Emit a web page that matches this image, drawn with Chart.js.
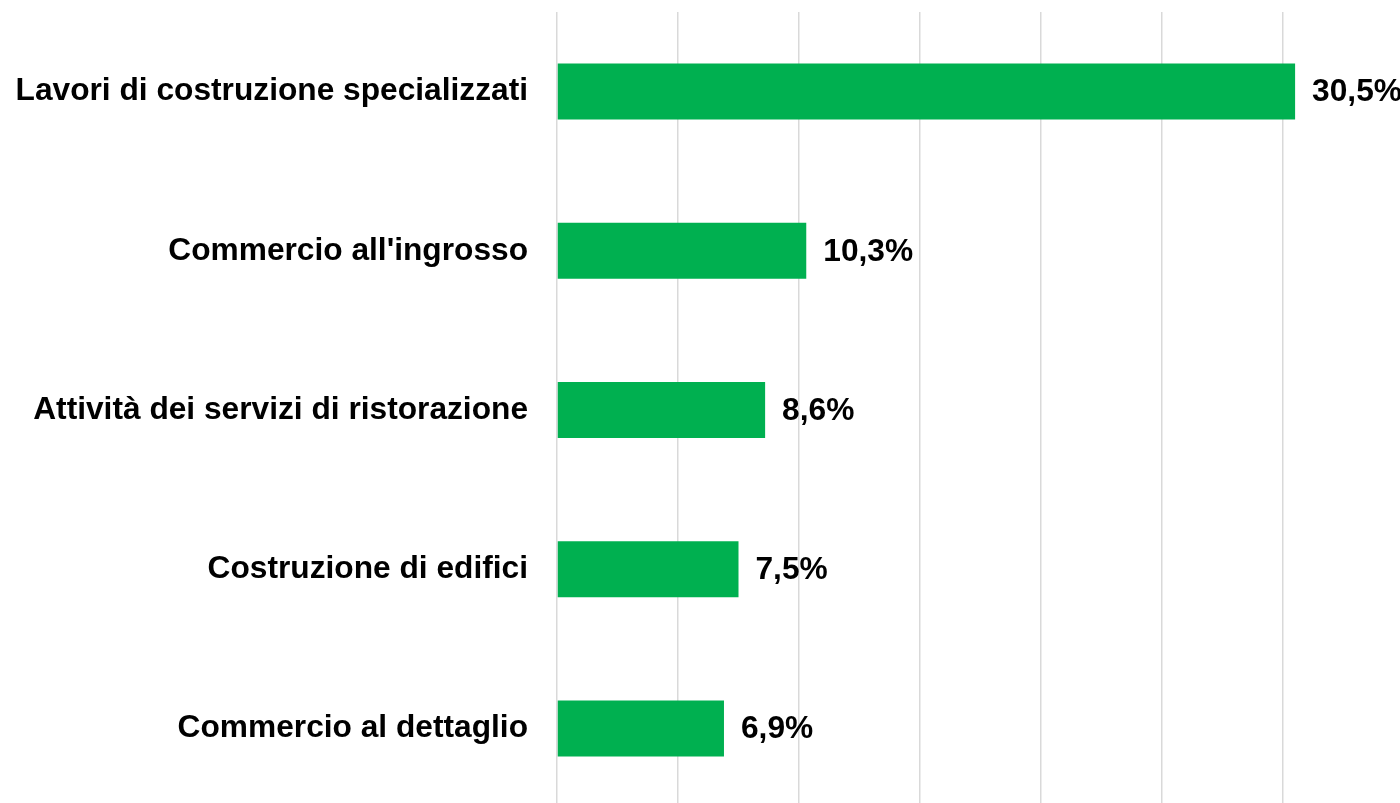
<html>
  <head>
    <title>Settori</title>
    <script src="https://cdn.jsdelivr.net/npm/chart.js@4.4.1/dist/chart.umd.min.js"></script>
    <style>
      body { margin: 0; overflow: hidden; background: #fff; }
      #wrap { width: 1404px; height: 808px; }
    </style>
  </head>
  <body>
    <div id="wrap">
      <canvas id="settori"></canvas>
    </div>
    <script>
      var categories = [
        'Lavori di costruzione specializzati',
        "Commercio all'ingrosso",
        'Attività dei servizi di ristorazione',
        'Costruzione di edifici',
        'Commercio al dettaglio'
      ];
      var values = [30.5, 10.3, 8.6, 7.5, 6.9];
      var valueLabels = ['30,5%', '10,3%', '8,6%', '7,5%', '6,9%'];

      var FONT = "'Liberation Sans', Arial, sans-serif";

      // etichette dei valori a destra delle barre
      var barLabels = {
        id: 'barLabels',
        afterDatasetsDraw: function(chart) {
          var ctx = chart.ctx;
          var meta = chart.getDatasetMeta(0);
          ctx.save();
          ctx.font = 'bold 31.7px ' + FONT;
          ctx.fillStyle = '#000';
          ctx.textAlign = 'left';
          ctx.textBaseline = 'middle';
          meta.data.forEach(function(bar, i) {
            ctx.fillText(valueLabels[i], bar.x + 17, bar.y + 1);
          });
          ctx.restore();
        }
      };

      new Chart('settori', {
        type: 'bar',
        data: {
          labels: categories,
          datasets: [{
            data: values,
            backgroundColor: '#00b050',
            borderWidth: 0,
            categoryPercentage: 1,
            barPercentage: 0.352
          }]
        },
        options: {
          indexAxis: 'y',
          responsive: true,
          maintainAspectRatio: false,
          animation: false,
          layout: { padding: { top: 12, right: 0, bottom: 0, left: 0 } },
          plugins: {
            legend: { display: false },
            tooltip: { enabled: false }
          },
          scales: {
            x: {
              min: 0,
              max: 35,
              ticks: { display: false, stepSize: 5 },
              border: { display: false },
              afterFit: function(scale) { scale.height = 0; scale.paddingLeft = 0; scale.paddingRight = 0; },
              grid: {
                drawTicks: false,
                lineWidth: 1.5,
                color: function(c) { return c.tick && c.tick.value >= 35 ? 'rgba(0,0,0,0)' : '#d9d9d9'; }
              }
            },
            y: {
              border: { display: false },
              grid: { display: false, drawTicks: false },
              afterFit: function(scale) {
                scale.width = 557;
                scale.paddingTop = 0;
                scale.paddingBottom = 0;
              },
              ticks: {
                padding: 29,
                color: '#000',
                font: { family: FONT, size: 31.7, weight: 'bold' }
              }
            }
          }
        },
        plugins: [barLabels]
      });
    </script>
  </body>
</html>
